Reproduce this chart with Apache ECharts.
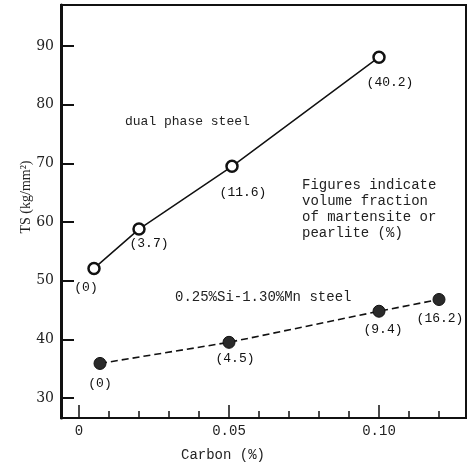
<!DOCTYPE html>
<html>
<head>
<meta charset="utf-8">
<script src="https://cdn.jsdelivr.net/npm/echarts@6/dist/echarts.min.js"></script>
<style>
html, body { margin: 0; padding: 0; background: #fff; }
#chart { width: 468px; height: 465px; }
</style>
</head>
<body>
<div id="chart"></div>
<script>
var myChart = echarts.init(document.getElementById('chart'));

// dual phase steel
var carbonDual = [0.005, 0.02, 0.051, 0.10];
var tsDual = [52.1, 58.8, 69.5, 88.1];
var fracDual = ['0', '3.7', '11.6', '40.2'];
// 0.25%Si-1.30%Mn steel
var carbonSiMn = [0.007, 0.05, 0.10, 0.12];
var tsSiMn = [35.9, 39.5, 44.8, 46.8];
var fracSiMn = ['0', '4.5', '9.4', '16.2'];
// ticks
var yTicks = [30, 40, 50, 60, 70, 80, 90];
var xMajor = [0, 0.05, 0.10];
var xMinor = [0.01, 0.02, 0.03, 0.04, 0.06, 0.07, 0.08, 0.09, 0.11, 0.12];

// where the "(n)" labels sit next to each point
var offDual = [[-8, 19], [10, 14], [11, 26], [11, 25]];
var offSiMn = [[0, 20], [6, 16], [4, 18], [1, 19]];

var mono = 'Liberation Mono';
var ink = '#111';

function makeData(xs, ys, fr, offs) {
    var out = [];
    for (var i = 0; i < xs.length; ++i) {
        out.push({
            value: [xs[i], ys[i]],
            label: { offset: offs[i], formatter: '(' + fr[i] + ')' }
        });
    }
    return out;
}

var labelStyle = {
    show: true,
    position: 'inside',
    color: ink,
    fontFamily: mono,
    fontSize: 13
};

myChart.setOption({
    animation: false,
    grid: {
        left: 61, top: 5, right: 2, bottom: 47,
        show: true,
        borderColor: ink,
        borderWidth: 2
    },
    xAxis: [{
        type: 'value',
        min: -0.006,
        max: 0.129,
        splitLine: { show: false },
        axisLine: { onZero: false, lineStyle: { color: ink, width: 2 } },
        axisTick: { inside: true, length: 13, customValues: xMajor, lineStyle: { color: ink, width: 1.5 } },
        axisLabel: {
            customValues: xMajor,
            margin: 6,
            color: '#222',
            fontFamily: mono,
            fontSize: 14,
            formatter: function (v) { return v === 0 ? '0' : v.toFixed(2); }
        }
    }, {
        type: 'value',
        position: 'bottom',
        min: -0.006,
        max: 0.129,
        splitLine: { show: false },
        axisLine: { show: false, onZero: false },
        axisLabel: { show: false },
        axisTick: { inside: true, length: 7, customValues: xMinor, lineStyle: { color: ink, width: 1.5 } }
    }],
    yAxis: {
        type: 'value',
        min: 26.6,
        max: 97,
        splitLine: { show: false },
        axisLine: { onZero: false, lineStyle: { color: ink, width: 3 } },
        axisTick: { inside: true, length: 13, customValues: yTicks, lineStyle: { color: ink, width: 2 } },
        axisLabel: {
            customValues: yTicks,
            margin: 7,
            color: '#222',
            fontFamily: 'DejaVu Serif',
            fontSize: 14
        }
    },
    graphic: [
        { type: 'text', x: 26, y: 197, rotation: Math.PI / 2,
          style: { text: 'TS (kg/mm²)', fill: '#222', font: '14px "Liberation Serif"', align: 'center', verticalAlign: 'middle' } },
        { type: 'text', x: 223, y: 455,
          style: { text: 'Carbon (%)', fill: '#222', font: '14px "Liberation Mono"', align: 'center', verticalAlign: 'middle' } },
        { type: 'text', x: 125, y: 122,
          style: { text: 'dual phase steel', fill: '#222', font: '13px "Liberation Mono"', verticalAlign: 'middle' } },
        { type: 'text', x: 175, y: 297,
          style: { text: '0.25%Si-1.30%Mn steel', fill: '#222', font: '14px "Liberation Mono"', verticalAlign: 'middle' } },
        { type: 'text', x: 302, y: 177,
          style: { text: 'Figures indicate\nvolume fraction\nof martensite or\npearlite (%)', fill: '#222',
                   font: '14px "Liberation Mono"', lineHeight: 16, verticalAlign: 'top' } }
    ],
    series: [{
        name: 'dual phase steel',
        type: 'line',
        data: makeData(carbonDual, tsDual, fracDual, offDual),
        symbol: 'circle',
        symbolSize: 11,
        lineStyle: { color: ink, width: 1.5 },
        itemStyle: { color: '#fff', borderColor: ink, borderWidth: 2.5 },
        label: labelStyle,
        z: 3
    }, {
        name: '0.25%Si-1.30%Mn steel',
        type: 'line',
        data: makeData(carbonSiMn, tsSiMn, fracSiMn, offSiMn),
        symbol: 'circle',
        symbolSize: 12,
        lineStyle: { color: ink, width: 1.6, type: [7, 4] },
        itemStyle: { color: '#2a2a2a', borderColor: ink, borderWidth: 1 },
        label: labelStyle,
        z: 3
    }]
});
</script>
</body>
</html>
